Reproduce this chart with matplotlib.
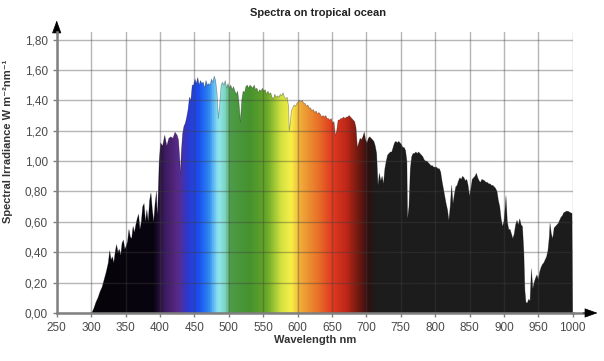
import matplotlib
matplotlib.use("Agg")
import matplotlib.pyplot as plt
import numpy as np
from matplotlib.colors import LinearSegmentedColormap
from matplotlib.lines import Line2D

# solar spectral irradiance (nm, W m-2 nm-1)
wavelength = [
    298, 301, 304, 307, 310, 313, 316, 319, 322, 325, 327, 329, 331, 333, 335, 337, 339,
    341, 343, 345, 347, 349, 351, 353, 355, 357, 359, 361, 363, 365, 367, 369, 371, 373,
    375, 377, 379, 381, 383, 385, 387, 389, 391, 393, 395, 396, 397, 399, 401, 404, 407,
    410, 413, 416, 419, 422, 425, 427, 429, 430, 431, 433, 435, 437, 439, 441, 443, 445,
    447, 449, 451, 453, 455, 457, 459, 461, 463, 465, 467, 469, 471, 473, 475, 477, 479,
    481, 483, 485, 487, 489, 491, 493, 495, 497, 499, 501, 503, 505, 507, 509, 511, 513,
    515, 517, 519, 521, 523, 525, 527, 529, 531, 533, 535, 537, 539, 541, 543, 545, 547,
    549, 551, 553, 555, 557, 559, 561, 563, 565, 567, 569, 571, 573, 575, 577, 579, 581,
    583, 585, 587, 588, 589.5, 591, 593, 595, 597, 599, 601, 603, 605, 607, 609, 611, 613,
    615, 617, 619, 621, 623, 625, 627, 629, 631, 633, 635, 637, 639, 641, 643, 645, 647,
    649, 651, 653, 655, 657, 659, 661, 663, 665, 667, 669, 671, 673, 675, 677, 679, 681,
    683, 685, 687, 689, 691, 693, 695, 697, 699, 701, 703, 705, 707, 709, 711, 713, 715,
    717, 719, 721, 723, 725, 727, 729, 731, 733, 735, 737, 739, 741, 743, 745, 747, 749,
    751, 753, 755, 757, 759, 760, 762, 764, 766, 768, 770, 772, 774, 776, 778, 780, 782,
    784, 786, 788, 790, 792, 794, 796, 798, 800, 802, 804, 806, 808, 810, 812, 814, 816,
    818, 820, 822, 824, 826, 828, 830, 832, 834, 836, 838, 840, 842, 844, 846, 848, 850,
    852, 854, 856, 858, 860, 862, 864, 866, 868, 870, 872, 874, 876, 878, 880, 882, 884,
    886, 888, 890, 892, 894, 896, 898, 900, 902, 903, 905, 907, 909, 911, 913, 915, 917,
    919, 921, 923, 925, 927, 929, 930.5, 932, 934, 936, 938, 940, 942, 944, 946, 948, 950,
    952, 954, 956, 958, 960, 962, 964, 966, 967, 969, 971, 973, 975, 977, 979, 981, 983,
    985, 987, 989, 991, 993, 995, 997, 999, 1000,
]
irradiance = [
    0.00, 0.00, 0.03, 0.07, 0.10, 0.14, 0.17, 0.22, 0.27, 0.33, 0.41, 0.35, 0.37, 0.33, 0.40, 0.45, 0.40,
    0.42, 0.38, 0.46, 0.48, 0.42, 0.44, 0.47, 0.55, 0.50, 0.49, 0.57, 0.53, 0.58, 0.62, 0.65, 0.55, 0.60,
    0.70, 0.72, 0.60, 0.68, 0.60, 0.74, 0.79, 0.68, 0.60, 0.72, 0.80, 0.65, 0.70, 1.00, 1.12, 1.10, 1.17,
    1.10, 1.15, 1.16, 1.15, 1.19, 1.17, 1.14, 1.00, 0.92, 1.05, 1.18, 1.23, 1.25, 1.29, 1.34, 1.42, 1.40,
    1.50, 1.50, 1.54, 1.51, 1.55, 1.50, 1.53, 1.51, 1.52, 1.48, 1.53, 1.50, 1.51, 1.50, 1.54, 1.52, 1.56,
    1.53, 1.45, 1.28, 1.38, 1.50, 1.52, 1.50, 1.53, 1.48, 1.51, 1.48, 1.50, 1.47, 1.49, 1.46, 1.44, 1.46,
    1.38, 1.26, 1.40, 1.46, 1.45, 1.49, 1.50, 1.48, 1.50, 1.49, 1.48, 1.50, 1.47, 1.48, 1.45, 1.47, 1.46,
    1.48, 1.46, 1.47, 1.44, 1.46, 1.44, 1.45, 1.42, 1.41, 1.44, 1.42, 1.43, 1.42, 1.44, 1.43, 1.45, 1.42,
    1.41, 1.42, 1.36, 1.20, 1.25, 1.33, 1.35, 1.37, 1.36, 1.38, 1.39, 1.40, 1.39, 1.40, 1.38, 1.38, 1.36,
    1.37, 1.35, 1.35, 1.33, 1.34, 1.32, 1.33, 1.31, 1.32, 1.31, 1.29, 1.30, 1.29, 1.30, 1.28, 1.28, 1.27,
    1.28, 1.25, 1.26, 1.17, 1.20, 1.27, 1.27, 1.28, 1.28, 1.29, 1.28, 1.29, 1.29, 1.30, 1.29, 1.28, 1.27,
    1.26, 1.22, 1.09, 1.12, 1.15, 1.14, 1.16, 1.19, 1.14, 1.12, 1.15, 1.16, 1.15, 1.14, 1.13, 1.10, 1.05,
    0.84, 0.92, 0.87, 0.90, 0.85, 0.95, 1.00, 1.04, 1.05, 1.06, 1.06, 1.09, 1.12, 1.13, 1.12, 1.13, 1.12,
    1.11, 1.09, 1.09, 1.07, 1.00, 0.62, 0.70, 0.95, 1.03, 1.05, 1.05, 1.06, 1.05, 1.06, 1.05, 1.04, 1.03,
    1.01, 1.00, 1.00, 0.99, 0.98, 0.97, 0.97, 0.96, 0.96, 0.96, 0.95, 0.95, 0.93, 0.87, 0.82, 0.77, 0.72,
    0.68, 0.61, 0.70, 0.84, 0.72, 0.78, 0.83, 0.84, 0.87, 0.89, 0.88, 0.90, 0.89, 0.87, 0.88, 0.84, 0.77,
    0.82, 0.88, 0.89, 0.90, 0.92, 0.89, 0.87, 0.86, 0.88, 0.875, 0.87, 0.86, 0.86, 0.85, 0.85, 0.84, 0.84,
    0.83, 0.82, 0.80, 0.74, 0.70, 0.62, 0.57, 0.60, 0.70, 0.77, 0.60, 0.55, 0.55, 0.52, 0.49, 0.52, 0.58,
    0.61, 0.58, 0.62, 0.58, 0.57, 0.40, 0.15, 0.07, 0.065, 0.09, 0.08, 0.29, 0.16, 0.20, 0.23, 0.25, 0.22,
    0.27, 0.30, 0.32, 0.33, 0.35, 0.37, 0.41, 0.50, 0.59, 0.52, 0.49, 0.56, 0.57, 0.58, 0.59, 0.61, 0.63,
    0.64, 0.66, 0.665, 0.67, 0.67, 0.665, 0.66, 0.655, 0.00,
]

x_ticks = list(range(250, 1001, 50))
y_ticks = [0.0, 0.2, 0.4, 0.6, 0.8, 1.0, 1.2, 1.4, 1.6, 1.8]
y_tick_labels = [f"{v:.2f}".replace(".", ",") for v in y_ticks]

# colour of the fill along the wavelength axis
spectrum_stops = [
    (250, "#050505"), (390, "#080410"), (405, "#3a1a5c"), (425, "#5a2a8a"),
    (440, "#2a3ad0"), (455, "#1a4cf0"), (470, "#2e88f0"), (484, "#90e8f2"),
    (494, "#7cd4c0"), (502, "#4c9c48"), (530, "#46922e"), (555, "#68a828"),
    (575, "#d0e040"), (590, "#f8f048"), (605, "#f0a838"), (630, "#e87028"),
    (650, "#e03a20"), (670, "#c02818"), (690, "#6a1810"), (703, "#2e1010"),
    (713, "#1c1c1c"), (1000, "#1c1c1c"),
]

plt.rcParams["font.family"] = ["Liberation Sans", "DejaVu Sans"]

fig = plt.figure(figsize=(6.04, 3.61), dpi=100)
ax = fig.add_axes([0.0939, 0.133, 0.8543, 0.7784])

x_min, x_max = 250, 1000
y_min, y_max = 0, 1.85

cmap = LinearSegmentedColormap.from_list(
    "spectrum", [((w - x_min) / (x_max - x_min), c) for w, c in spectrum_stops]
)
gradient = np.linspace(0, 1, 1500).reshape(1, -1)
im = ax.imshow(gradient, cmap=cmap, aspect="auto", extent=[x_min, x_max, y_min, y_max],
               origin="lower", zorder=1, interpolation="bilinear")
poly = ax.fill_between(wavelength, 0, irradiance, facecolor="none", edgecolor="none")
im.set_clip_path(poly.get_paths()[0], transform=ax.transData)
ax.plot(wavelength, irradiance, color="black", linewidth=0.5, alpha=0.35, zorder=2)

ax.set_xlim(x_min, x_max)
ax.set_ylim(y_min, y_max)
ax.set_xticks(x_ticks)
ax.set_yticks(y_ticks)
ax.set_yticklabels(y_tick_labels)
ax.tick_params(axis="both", colors="#808080", labelcolor="#4a4a4a", labelsize=8.5,
               length=3, width=1, direction="out")
ax.grid(True, color="#404040", alpha=0.38, linewidth=1, zorder=3)
ax.set_axisbelow(False)

for side in ["top", "right"]:
    ax.spines[side].set_visible(False)
for side in ["left", "bottom"]:
    ax.spines[side].set_color("#808080")
    ax.spines[side].set_linewidth(1.8)
    ax.spines[side].set_zorder(4)

# axis extensions with arrow heads
ax.add_line(Line2D([0, 0], [1.0, 1.01], transform=ax.transAxes, color="#808080",
                   linewidth=1.8, clip_on=False))
ax.add_line(Line2D([1.0, 1.025], [0, 0], transform=ax.transAxes, color="#808080",
                   linewidth=1.8, clip_on=False))
arrow_style = "-|>,head_length=0.55,head_width=0.2"
ax.annotate("", xy=(0, 1.041), xytext=(0, 1.0), xycoords="axes fraction",
            arrowprops=dict(arrowstyle=arrow_style, color="black", lw=0.5,
                            shrinkA=0, shrinkB=0, mutation_scale=15))
ax.annotate("", xy=(1.048, 0), xytext=(1.02, 0), xycoords="axes fraction",
            arrowprops=dict(arrowstyle=arrow_style, color="black", lw=0.5,
                            shrinkA=0, shrinkB=0, mutation_scale=15))

fig.text(0.527, 0.978, "Spectra on tropical ocean", ha="center", va="top",
         fontsize=8, fontweight="bold", color="#222222")
ax.set_xlabel("Wavelength nm", fontsize=8, fontweight="bold", color="#333333", labelpad=1)
ax.set_ylabel("Spectral Irradiance W m⁻²nm⁻¹", fontsize=8, fontweight="bold",
              color="#333333")
ax.yaxis.set_label_coords(-0.085, 0.61)

fig.savefig("out.png", dpi=100)
